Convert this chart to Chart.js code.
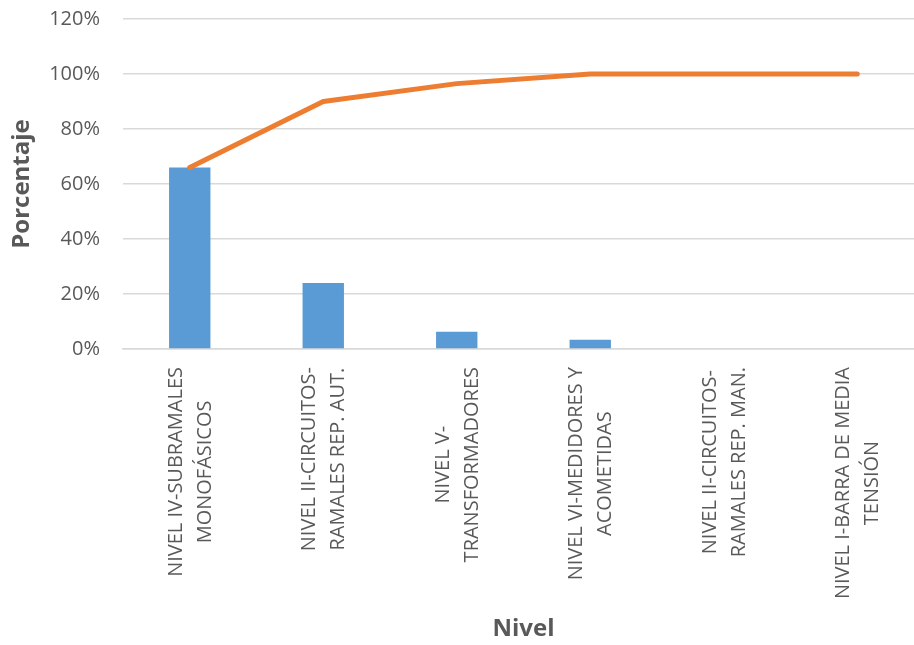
<!DOCTYPE html>
<html>
<head>
<meta charset="utf-8">
<script src="https://cdn.jsdelivr.net/npm/chart.js@4"></script>
<style>
  html, body { margin: 0; padding: 0; background: #fff; overflow: hidden; }
  #wrap { width: 924px; height: 645px; }
</style>
</head>
<body>
<div id="wrap"><canvas id="pareto"></canvas></div>
<script>
const categories = [
    ['NIVEL IV-SUBRAMALES', 'MONOFÁSICOS'],
    ['NIVEL II-CIRCUITOS-', 'RAMALES REP. AUT.'],
    ['NIVEL V-', 'TRANSFORMADORES'],
    ['NIVEL VI-MEDIDORES Y', 'ACOMETIDAS'],
    ['NIVEL II-CIRCUITOS-', 'RAMALES REP. MAN.'],
    ['NIVEL I-BARRA DE MEDIA', 'TENSIÓN']
]
const percentValues = [66, 24, 6.3, 3.4, 0, 0]
const cumulativeValues = [66, 90, 96.5, 100, 100, 100]
const yTicks = [0, 20, 40, 60, 80, 100, 120]

const gray = '#595959'
const labelFont = '20px "Open Sans"'

// category labels: rotated, lines centred on each other like Excel does
const rotatedLabels = {
    id: 'rotatedLabels',
    afterDraw(chart) {
        const ctx = chart.ctx
        const xs = chart.scales.x
        const top = chart.chartArea.bottom + 18
        const lineGap = 29
        ctx.save()
        ctx.font = labelFont
        ctx.fillStyle = gray
        ctx.textAlign = 'center'
        ctx.textBaseline = 'middle'
        categories.forEach((lines, i) => {
            const x = xs.getPixelForValue(i) + 1
            const maxW = Math.max(...lines.map(l => ctx.measureText(l).width))
            ctx.save()
            ctx.translate(x, top)
            ctx.rotate(-Math.PI / 2)
            lines.forEach((l, j) => {
                ctx.fillText(l, -maxW / 2, (j - (lines.length - 1) / 2) * lineGap)
            })
            ctx.restore()
        })
        ctx.restore()
    }
}

new Chart(document.getElementById('pareto'), {
    type: 'bar',
    data: {
        labels: categories.map(c => c.join(' ')),
        datasets: [{
            type: 'line',
            label: 'Acumulado',
            data: cumulativeValues,
            borderColor: '#ED7D31',
            borderWidth: 5,
            borderCapStyle: 'round',
            borderJoinStyle: 'round',
            pointRadius: 0,
            tension: 0,
            order: 1
        }, {
            label: 'Porcentaje',
            data: percentValues,
            backgroundColor: '#5B9BD5',
            borderWidth: 0,
            barPercentage: 0.31,
            categoryPercentage: 1,
            order: 2
        }]
    },
    options: {
        responsive: true,
        maintainAspectRatio: false,
        animation: false,
        layout: { padding: { top: 19, right: 0, left: 0, bottom: 0 } },
        plugins: {
            legend: { display: false },
            tooltip: { enabled: false }
        },
        scales: {
            x: {
                grid: { display: false },
                border: { display: true, color: '#d9d9d9', width: 1.5 },
                ticks: { display: false },
                title: {
                    display: true,
                    text: 'Nivel',
                    color: gray,
                    font: { family: 'Open Sans', size: 24, weight: 'bold' },
                    padding: { top: 0, bottom: 1 }
                },
                afterFit: (scale) => {
                    scale.height = 296
                    scale.paddingLeft = 0
                    scale.paddingRight = 0
                }
            },
            y: {
                min: 0,
                max: 120,
                afterBuildTicks: (scale) => { scale.ticks = yTicks.map(v => ({ value: v })) },
                grid: { color: '#d9d9d9', lineWidth: 1.5, drawTicks: false },
                border: { display: false },
                ticks: {
                    color: gray,
                    font: { family: 'Open Sans', size: 20 },
                    padding: 23,
                    callback: (v) => v + '%'
                },
                title: {
                    display: true,
                    text: 'Porcentaje',
                    color: gray,
                    font: { family: 'Open Sans', size: 24, weight: 'bold' },
                    padding: { top: 8, bottom: 0 }
                },
                afterFit: (scale) => {
                    scale.width = 123
                    scale.paddingTop = 0
                    scale.paddingBottom = 0
                }
            }
        }
    },
    plugins: [rotatedLabels]
});
</script>
</body>
</html>
